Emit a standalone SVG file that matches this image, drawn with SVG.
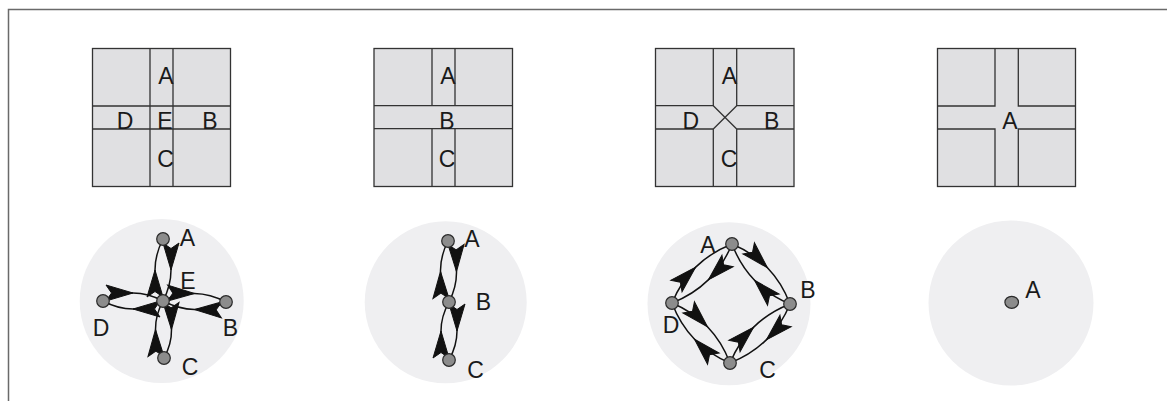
<svg xmlns="http://www.w3.org/2000/svg" width="1167" height="401" viewBox="0 0 1167 401">
<style>
.frame{fill:none;stroke:#6a6a6a;stroke-width:1.5}
.sq{fill:#e0e0e2;stroke:#333;stroke-width:1.3}
.ln{fill:none;stroke:#333;stroke-width:1.3}
.disc{fill:#efeff1;stroke:none}
.nd{fill:#8c8c8c;stroke:#2a2a2a;stroke-width:1.2}
.arc{fill:none;stroke:#111;stroke-width:1.5;marker-mid:url(#ah)}
text{font-family:"Liberation Sans",Arial,sans-serif;font-size:23px;fill:#1a1a1a;text-anchor:middle}
</style>
<defs>
<marker id="ah" markerUnits="userSpaceOnUse" viewBox="-32 -11 34 22" refX="0" refY="0" markerWidth="34" markerHeight="22" orient="auto" overflow="visible">
<path d="M0,0 L-27,-8 L-21.5,0 L-27,8 Z" fill="#111" stroke="#111" stroke-width="1" stroke-linejoin="miter"/>
</marker>
</defs>
<polyline class="frame" points="8.5,401 8.5,9.5 1167,9.5"/>

<g id="panel1">
<rect class="sq" x="92.5" y="48.5" width="138" height="138"/>
<path class="ln" d="M150,48.5V186.5M173,48.5V186.5M92.5,106H230.5M92.5,129H230.5"/>
<text x="166" y="83.5">A</text><text x="125" y="128.5">D</text><text x="165" y="128.5">E</text><text x="210" y="128.5">B</text><text x="165.5" y="167">C</text>
</g>
<g id="panel2">
<rect class="sq" x="374" y="48.5" width="138.5" height="138"/>
<path class="ln" d="M432,48.5V105.7M455,48.5V105.7M432,128.7V186.5M455,128.7V186.5M374,105.7H512.5M374,128.7H512.5"/>
<text x="448" y="84.3">A</text><text x="447" y="128.5">B</text><text x="447" y="167">C</text>
</g>
<g id="panel3">
<rect class="sq" x="655.5" y="48.5" width="138.5" height="138"/>
<path class="ln" d="M713.3,48.5V105.7M736.7,48.5V105.7M713.3,129V186.5M736.7,129V186.5M655.5,105.7H713.3M736.7,105.7H794M655.5,129H713.3M736.7,129H794M713.3,105.7L736.7,129M736.7,105.7L713.3,129"/>
<text x="729.5" y="84">A</text><text x="690.7" y="128.7">D</text><text x="771.7" y="128.7">B</text><text x="729" y="167">C</text>
</g>
<g id="panel4">
<rect class="sq" x="937.5" y="48.5" width="138" height="138"/>
<path class="ln" d="M937.5,106H995V48.5M1018.3,48.5V106H1075.5M937.5,129H995V186.5M1018.3,186.5V129H1075.5"/>
<text x="1010" y="129">A</text>
</g>

<g id="disc1"><circle class="disc" cx="161.7" cy="301" r="82"/></g>
<g id="disc2"><circle class="disc" cx="445.7" cy="302.3" r="81"/></g>
<g id="disc3"><circle class="disc" cx="729" cy="303.7" r="81.5"/></g>
<g id="disc4"><circle class="disc" cx="1011" cy="303" r="82.5"/></g>

<g id="connectors">
<path class="arc" d="M163,239 Q171,254.5 171,270 Q171,285.5 163,301"/>
<path class="arc" d="M163,301 Q155,285.5 155,270 Q155,254.5 163,239"/>
<path class="arc" d="M226,302 Q210.25,309.75 194.5,309.5 Q178.75,309.25 163,301"/>
<path class="arc" d="M163,301 Q178.75,293.25 194.5,293.5 Q210.25,293.75 226,302"/>
<path class="arc" d="M163,301 Q171.25,315.25 171.5,329.5 Q171.75,343.75 164,358"/>
<path class="arc" d="M164,358 Q155.75,343.75 155.5,329.5 Q155.25,315.25 163,301"/>
<path class="arc" d="M103,301 Q118,293 133,293 Q148,293 163,301"/>
<path class="arc" d="M163,301 Q148,309 133,309 Q118,309 103,301"/>

<path class="arc" d="M448,241 Q456.25,256.25 456.5,271.5 Q456.75,286.75 449,302"/>
<path class="arc" d="M449,302 Q440.75,286.75 440.5,271.5 Q440.25,256.25 448,241"/>
<path class="arc" d="M449,302 Q457,316.5 457,331 Q457,345.5 449,360"/>
<path class="arc" d="M449,360 Q441,345.5 441,331 Q441,316.5 449,302"/>

<path class="arc" d="M732,244 Q752.95,252.75 767.45,267.75 Q781.95,282.75 790,304"/>
<path class="arc" d="M790,304 Q769.05,295.25 754.55,280.25 Q740.05,265.25 732,244"/>
<path class="arc" d="M790,304 Q781.3,325.15 766.3,339.9 Q751.3,354.65 730,363"/>
<path class="arc" d="M730,363 Q738.7,341.85 753.7,327.1 Q768.7,312.35 790,304"/>
<path class="arc" d="M730,363 Q709.05,354.25 694.55,339.25 Q680.05,324.25 672,303"/>
<path class="arc" d="M672,303 Q692.95,311.75 707.45,326.75 Q721.95,341.75 730,363"/>
<path class="arc" d="M672,303 Q680.7,281.85 695.7,267.1 Q710.7,252.35 732,244"/>
<path class="arc" d="M732,244 Q723.3,265.15 708.3,279.9 Q693.3,294.65 672,303"/>
</g>

<g id="n1A"><circle class="nd" cx="163" cy="239" r="6.3"/><text x="187.5" y="245.7">A</text></g>
<g id="n1E"><circle class="nd" cx="163" cy="301" r="6.3"/><text x="188" y="289">E</text></g>
<g id="n1D"><circle class="nd" cx="103" cy="301" r="6.3"/><text x="101" y="335.7">D</text></g>
<g id="n1B"><circle class="nd" cx="226" cy="302" r="6.3"/><text x="230.5" y="335.7">B</text></g>
<g id="n1C"><circle class="nd" cx="164" cy="358" r="6.3"/><text x="190" y="375">C</text></g>

<g id="n2A"><circle class="nd" cx="448" cy="241" r="6.3"/><text x="472" y="246.7">A</text></g>
<g id="n2B"><circle class="nd" cx="449" cy="302" r="6.3"/><text x="483.5" y="310">B</text></g>
<g id="n2C"><circle class="nd" cx="449" cy="360" r="6.3"/><text x="475.5" y="378">C</text></g>

<g id="n3A"><circle class="nd" cx="732" cy="244" r="6.3"/><text x="708" y="253.3">A</text></g>
<g id="n3B"><circle class="nd" cx="790" cy="304" r="6.3"/><text x="808" y="298.3">B</text></g>
<g id="n3C"><circle class="nd" cx="730" cy="363" r="6.3"/><text x="767.5" y="378.3">C</text></g>
<g id="n3D"><circle class="nd" cx="672" cy="303" r="6.3"/><text x="671" y="333.3">D</text></g>

<g id="n4A"><ellipse class="nd" cx="1011.7" cy="302.3" rx="6.8" ry="6" stroke-width="1.8"/><text x="1033" y="298.3">A</text></g>
</svg>
